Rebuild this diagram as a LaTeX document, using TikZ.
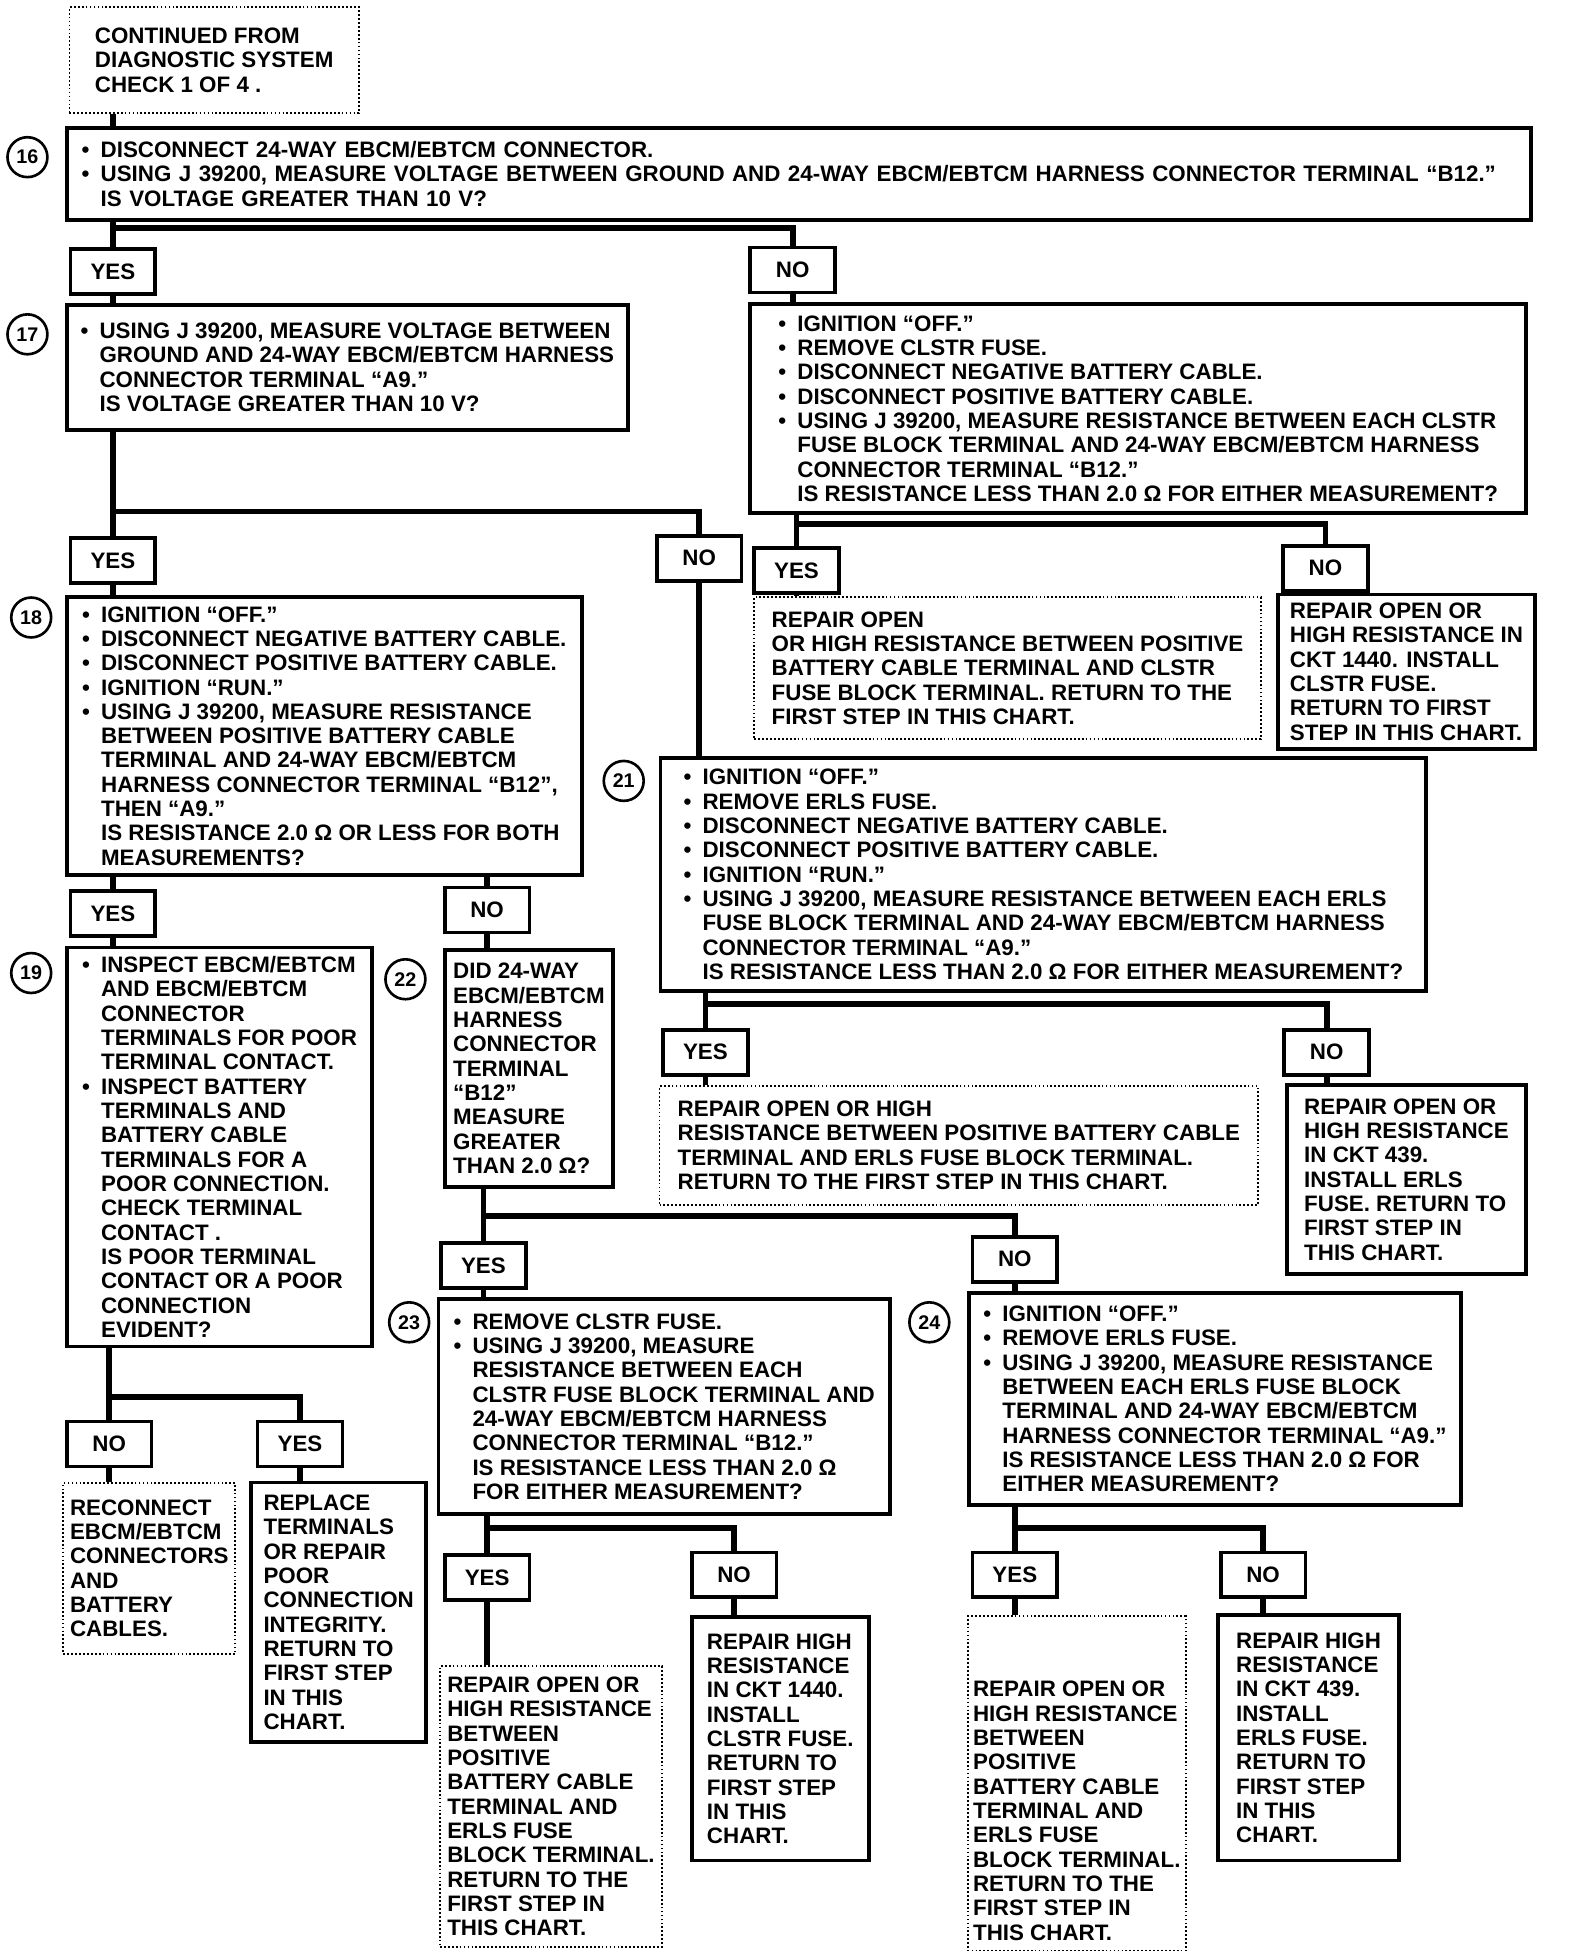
\documentclass[tikz,border=0pt]{standalone}
\usepackage{fontspec}
\setmainfont{Liberation Sans}
\newcommand{\bl}{\makebox[0.85em][l]{\textbullet}}
\newcommand{\cn}{\hspace*{0.85em}}

\begin{document}
\begin{tikzpicture}[
  x=0.02cm, y=-0.02cm,
  font=\fontsize{10.2}{11.1}\selectfont\bfseries,
  stepbox/.style={draw, line width=1.7pt, anchor=north west, align=left, inner sep=0pt},
  dotbox/.style={draw, densely dotted, line width=0.8pt, anchor=north west, align=left, inner sep=0pt},
  ans/.style={draw, line width=1.7pt, anchor=north west, minimum width=1.36cm, minimum height=0.72cm, inner sep=0pt},
  num/.style={circle, draw, line width=1.2pt, minimum size=0.64cm, inner sep=0pt, font=\fontsize{9}{10}\selectfont\bfseries},
  link/.style={line width=2.6pt},
]
\useasboundingbox (0,0) rectangle (1257,1568);
% start
\node[dotbox, minimum width=4.64cm, minimum height=1.7cm] (start) at (55,5)
  {CONTINUED FROM\\DIAGNOSTIC SYSTEM\\CHECK 1 OF 4 .};
% step 16
\node[stepbox, text width=23.0cm, minimum width=23.48cm, minimum height=1.48cm] (b16) at (52,101)
  {\bl DISCONNECT 24-WAY EBCM/EBTCM CONNECTOR.\\
   \bl USING J 39200, MEASURE VOLTAGE BETWEEN GROUND AND 24-WAY EBCM/EBTCM HARNESS CONNECTOR TERMINAL “B12.”\\
   \cn IS VOLTAGE GREATER THAN 10 V?};
\node[num] (n16) at (22,126) {16};
\node[ans] (yes16) at (55,198) {YES};
\node[ans] (no16) at (600,197) {NO};
% step 17
\node[stepbox, minimum width=9.0cm, minimum height=2.0cm] (b17) at (52,243)
  {\bl USING J 39200, MEASURE VOLTAGE BETWEEN\\
   \cn GROUND AND 24-WAY EBCM/EBTCM HARNESS\\
   \cn CONNECTOR TERMINAL “A9.”\\
   \cn IS VOLTAGE GREATER THAN 10 V?};
\node[num] (n17) at (22,268) {17};
% no from 16
\node[stepbox, minimum width=12.44cm, minimum height=3.36cm] (b20) at (600,242)
  {\bl IGNITION “OFF.”\\
   \bl REMOVE CLSTR FUSE.\\
   \bl DISCONNECT NEGATIVE BATTERY CABLE.\\
   \bl DISCONNECT POSITIVE BATTERY CABLE.\\
   \bl USING J 39200, MEASURE RESISTANCE BETWEEN EACH CLSTR\\
   \cn FUSE BLOCK TERMINAL AND 24-WAY EBCM/EBTCM HARNESS\\
   \cn CONNECTOR TERMINAL “B12.”\\
   \cn IS RESISTANCE LESS THAN 2.0 Ω FOR EITHER MEASUREMENT?};
\node[ans] (yes17) at (55,430) {YES};
\node[ans] (no17) at (525,428) {NO};
\node[ans] (yes20) at (603,438) {YES};
\node[ans] (no20) at (1027,436) {NO};
\node[dotbox, minimum width=8.12cm, minimum height=2.28cm] (r20y) at (604,478)
  {REPAIR OPEN\\OR HIGH RESISTANCE BETWEEN POSITIVE\\BATTERY CABLE TERMINAL AND CLSTR\\FUSE BLOCK TERMINAL. RETURN TO THE\\FIRST STEP IN THIS CHART.};
\node[stepbox, minimum width=4.12cm, minimum height=2.48cm] (r20n) at (1023,475)
  {REPAIR OPEN OR\\HIGH RESISTANCE IN\\CKT 1440. INSTALL\\CLSTR FUSE.\\RETURN TO FIRST\\STEP IN THIS CHART.};
% step 18
\node[stepbox, minimum width=8.26cm, minimum height=4.46cm] (b18) at (52,477)
  {\bl IGNITION “OFF.”\\
   \bl DISCONNECT NEGATIVE BATTERY CABLE.\\
   \bl DISCONNECT POSITIVE BATTERY CABLE.\\
   \bl IGNITION “RUN.”\\
   \bl USING J 39200, MEASURE RESISTANCE\\
   \cn BETWEEN POSITIVE BATTERY CABLE\\
   \cn TERMINAL AND 24-WAY EBCM/EBTCM\\
   \cn HARNESS CONNECTOR TERMINAL “B12”,\\
   \cn THEN “A9.”\\
   \cn IS RESISTANCE 2.0 Ω OR LESS FOR BOTH\\
   \cn MEASUREMENTS?};
\node[num] (n18) at (25,495) {18};
% step 21
\node[stepbox, minimum width=12.28cm, minimum height=3.74cm] (b21) at (528,606)
  {\bl IGNITION “OFF.”\\
   \bl REMOVE ERLS FUSE.\\
   \bl DISCONNECT NEGATIVE BATTERY CABLE.\\
   \bl DISCONNECT POSITIVE BATTERY CABLE.\\
   \bl IGNITION “RUN.”\\
   \bl USING J 39200, MEASURE RESISTANCE BETWEEN EACH ERLS\\
   \cn FUSE BLOCK TERMINAL AND 24-WAY EBCM/EBTCM HARNESS\\
   \cn CONNECTOR TERMINAL “A9.”\\
   \cn IS RESISTANCE LESS THAN 2.0 Ω FOR EITHER MEASUREMENT?};
\node[num] (n21) at (500,626) {21};
\node[ans] (yes21) at (530,824) {YES};
\node[ans] (no21) at (1028,824) {NO};
\node[dotbox, minimum width=9.6cm, minimum height=1.9cm] (r21y) at (528,870)
  {REPAIR OPEN OR HIGH\\RESISTANCE BETWEEN POSITIVE BATTERY CABLE\\TERMINAL AND ERLS FUSE BLOCK TERMINAL.\\RETURN TO THE FIRST STEP IN THIS CHART.};
\node[stepbox, minimum width=3.84cm, minimum height=3.04cm] (r21n) at (1030,868)
  {REPAIR OPEN OR\\HIGH RESISTANCE\\IN CKT 439.\\INSTALL ERLS\\FUSE. RETURN TO\\FIRST STEP IN\\THIS CHART.};
\node[ans] (yes18) at (55,713) {YES};
\node[ans] (no18) at (355,710) {NO};
% step 19
\node[stepbox, minimum width=4.9cm, minimum height=6.4cm] (b19) at (52,758)
  {\bl INSPECT EBCM/EBTCM\\
   \cn AND EBCM/EBTCM\\
   \cn CONNECTOR\\
   \cn TERMINALS FOR POOR\\
   \cn TERMINAL CONTACT.\\
   \bl INSPECT BATTERY\\
   \cn TERMINALS AND\\
   \cn BATTERY CABLE\\
   \cn TERMINALS FOR A\\
   \cn POOR CONNECTION.\\
   \cn CHECK TERMINAL\\
   \cn CONTACT .\\
   \cn IS POOR TERMINAL\\
   \cn CONTACT OR A POOR\\
   \cn CONNECTION\\
   \cn EVIDENT?};
\node[num] (n19) at (25,780) {19};
% step 22
\node[stepbox, minimum width=2.7cm, minimum height=3.8cm] (b22) at (355,760)
  {DID 24-WAY\\EBCM/EBTCM\\HARNESS\\CONNECTOR\\TERMINAL\\“B12”\\MEASURE\\GREATER\\THAN 2.0 Ω?};
\node[num] (n22) at (325,785) {22};
\node[ans] (yes22) at (352,995) {YES};
\node[ans] (no22) at (778,990) {NO};
% step 23
\node[stepbox, minimum width=7.24cm, minimum height=3.44cm] (b23) at (350,1040)
  {\bl REMOVE CLSTR FUSE.\\
   \bl USING J 39200, MEASURE\\
   \cn RESISTANCE BETWEEN EACH\\
   \cn CLSTR FUSE BLOCK TERMINAL AND\\
   \cn 24-WAY EBCM/EBTCM HARNESS\\
   \cn CONNECTOR TERMINAL “B12.”\\
   \cn IS RESISTANCE LESS THAN 2.0 Ω\\
   \cn FOR EITHER MEASUREMENT?};
\node[num] (n23) at (328,1060) {23};
% step 24
\node[stepbox, minimum width=7.9cm, minimum height=3.4cm] (b24) at (775,1035)
  {\bl IGNITION “OFF.”\\
   \bl REMOVE ERLS FUSE.\\
   \bl USING J 39200, MEASURE RESISTANCE\\
   \cn BETWEEN EACH ERLS FUSE BLOCK\\
   \cn TERMINAL AND 24-WAY EBCM/EBTCM\\
   \cn HARNESS CONNECTOR TERMINAL “A9.”\\
   \cn IS RESISTANCE LESS THAN 2.0 Ω FOR\\
   \cn EITHER MEASUREMENT?};
\node[num] (n24) at (745,1060) {24};
% answers of 19
\node[ans] (no19) at (52,1138) {NO};
\node[ans] (yes19) at (205,1138) {YES};
\node[dotbox, minimum width=2.76cm, minimum height=2.74cm] (r19n) at (50,1188)
  {RECONNECT\\EBCM/EBTCM\\CONNECTORS\\AND\\BATTERY\\CABLES.};
\node[stepbox, minimum width=2.8cm, minimum height=4.16cm] (r19y) at (200,1187)
  {REPLACE\\TERMINALS\\OR REPAIR\\POOR\\CONNECTION\\INTEGRITY.\\RETURN TO\\FIRST STEP\\IN THIS\\CHART.};
% answers of 23
\node[ans] (yes23) at (355,1245) {YES};
\node[ans] (no23) at (553,1243) {NO};
\node[dotbox, minimum width=3.56cm, minimum height=4.5cm] (r23y) at (352,1335)
  {REPAIR OPEN OR\\HIGH RESISTANCE\\BETWEEN\\POSITIVE\\BATTERY CABLE\\TERMINAL AND\\ERLS FUSE\\BLOCK TERMINAL.\\RETURN TO THE\\FIRST STEP IN\\THIS CHART.};
\node[stepbox, minimum width=2.84cm, minimum height=3.9cm] (r23n) at (553,1295)
  {REPAIR HIGH\\RESISTANCE\\IN CKT 1440.\\INSTALL\\CLSTR FUSE.\\RETURN TO\\FIRST STEP\\IN THIS\\CHART.};
% answers of 24
\node[ans] (yes24) at (778,1243) {YES};
\node[ans] (no24) at (977,1243) {NO};
\node[dotbox, minimum width=3.5cm, minimum height=5.36cm] (r24y) at (775,1295)
  {\mbox{}\\[21pt]REPAIR OPEN OR\\HIGH RESISTANCE\\BETWEEN\\POSITIVE\\BATTERY CABLE\\TERMINAL AND\\ERLS FUSE\\BLOCK TERMINAL.\\RETURN TO THE\\FIRST STEP IN\\THIS CHART.};
\node[stepbox, minimum width=2.9cm, minimum height=3.94cm] (r24n) at (975,1293)
  {REPAIR HIGH\\RESISTANCE\\IN CKT 439.\\INSTALL\\ERLS FUSE.\\RETURN TO\\FIRST STEP\\IN THIS\\CHART.};
% forks
\coordinate (f16) at (0,183);
\coordinate (f17) at (0,410);
\coordinate (f20) at (0,420);
\coordinate (f21) at (0,805);
\coordinate (f22) at (0,975);
\coordinate (f19) at (0,1120);
\coordinate (f23) at (0,1225);
\coordinate (f24) at (0,1225);
% connectors
\draw[link] (start.south -| yes16) -- (b16.north -| yes16);
\draw[link] (b16.south -| yes16) -- (yes16.north);
\draw[link] (f16 -| yes16) -| (no16.north);
\draw[link] (yes16.south) -- (b17.north -| yes16);
\draw[link] (no16.south) -- (b20.north -| no16);
\draw[link] (b17.south -| yes17) -- (yes17.north);
\draw[link] (f17 -| yes17) -| (no17.north);
\draw[link] (b20.south -| yes20) -- (yes20.north);
\draw[link] (f20 -| yes20) -| (no20.north);
\draw[link] (yes20.south) -- (r20y.north -| yes20);
\draw[link] (no20.south) -- (r20n.north -| no20);
\draw[link] (yes17.south) -- (b18.north -| yes17);
\draw[link] (no17.south) -- (b21.north -| no17);
\draw[link] (b18.south -| yes18) -- (yes18.north);
\draw[link] (b18.south -| no18) -- (no18.north);
\draw[link] (yes18.south) -- (b19.north -| yes18);
\draw[link] (no18.south) -- (b22.north -| no18);
\draw[link] (b21.south -| yes21) -- (yes21.north);
\draw[link] (f21 -| yes21) -| (no21.north);
\draw[link] (yes21.south) -- (r21y.north -| yes21);
\draw[link] (no21.south) -- (r21n.north -| no21);
\draw[link] (b22.south -| yes22) -- (yes22.north);
\draw[link] (f22 -| yes22) -| (no22.north);
\draw[link] (yes22.south) -- (b23.north -| yes22);
\draw[link] (no22.south) -- (b24.north -| no22);
\draw[link] (b19.south -| no19) -- (no19.north);
\draw[link] (f19 -| no19) -| (yes19.north);
\draw[link] (no19.south) -- (r19n.north -| no19);
\draw[link] (yes19.south) -- (r19y.north -| yes19);
\draw[link] (b23.south -| yes23) -- (yes23.north);
\draw[link] (f23 -| yes23) -| (no23.north);
\draw[link] (yes23.south) -- (r23y.north -| yes23);
\draw[link] (no23.south) -- (r23n.north -| no23);
\draw[link] (b24.south -| yes24) -- (yes24.north);
\draw[link] (f24 -| yes24) -| (no24.north);
\draw[link] (yes24.south) -- (r24y.north -| yes24);
\draw[link] (no24.south) -- (r24n.north -| no24);
\end{tikzpicture}
\end{document}
